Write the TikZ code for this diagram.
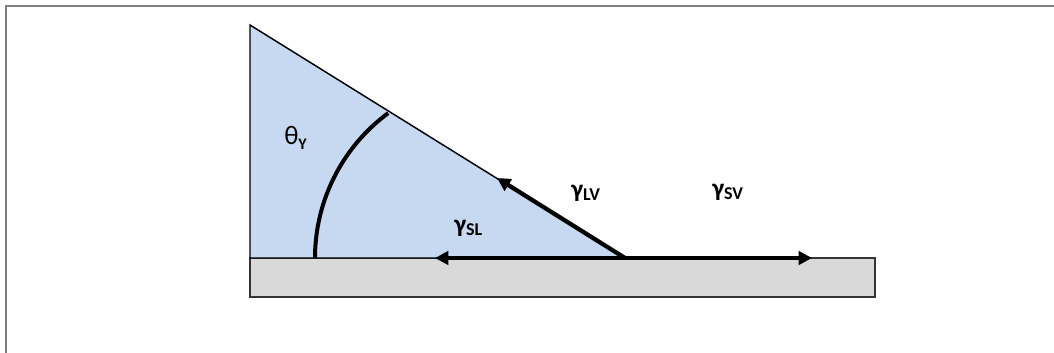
\documentclass[tikz,border=0pt]{standalone}
\usepackage{fontspec}
\setmainfont{Carlito}
\usetikzlibrary{arrows.meta}
\definecolor{liquid}{HTML}{C6D9F1}
\definecolor{solid}{HTML}{D9D9D9}
\definecolor{frame}{HTML}{7F7F7F}
\tikzset{
  force/.style={line width=3.2pt, -{Triangle[length=10pt,width=10pt]}},
  lbl/.style={inner sep=0pt, font=\fontsize{19}{22}\selectfont\bfseries},
}
\newcommand{\gsub}[1]{\raisebox{-0.3ex}{\fontsize{13.5}{15}\selectfont\bfseries #1}}
\begin{document}
\begin{tikzpicture}[x=0.75pt, y=-0.75pt]
\useasboundingbox (0,0) rectangle (1054,353);
% outer frame (top and left only)
\draw[frame, line width=1.5pt] (5.5,353) -- (5.5,6.5) -- (1054,6.5);
% coordinates
\coordinate (top) at (250,25);
\coordinate (bl) at (250,258);
\coordinate (cl) at (625,258);
\coordinate (lvtip) at (497,178);
\coordinate (sltip) at (435,258);
\coordinate (svtip) at (812,258);
% substrate
\draw[fill=solid, draw=black!80, line width=1.1pt] (250,258) rectangle (875,297);
% droplet
\draw[fill=liquid, draw=black, line width=1.1pt] (top) -- (bl) -- (cl) -- cycle;
% contact angle arc
\draw[line width=3pt] (315,258) arc[start angle=180, end angle=233.6, radius=180];
% forces
\draw[force] (cl) -- (lvtip);
\draw[force] (cl) -- (sltip);
\draw[force] (cl) -- (svtip);
% labels
\node[inner sep=0pt, font=\fontsize{20}{24}\selectfont, anchor=west] (theta) at (284,138) {θ\raisebox{-0.35ex}{\fontsize{12}{14}\selectfont\bfseries Y}};
\node[lbl, anchor=west] (glv) at (571,193) {γ\gsub{LV}};
\node[lbl, anchor=west] (gsl) at (454,228) {γ\gsub{SL}};
\node[lbl, anchor=west] (gsv) at (712,192) {γ\gsub{SV}};
\end{tikzpicture}
\end{document}
